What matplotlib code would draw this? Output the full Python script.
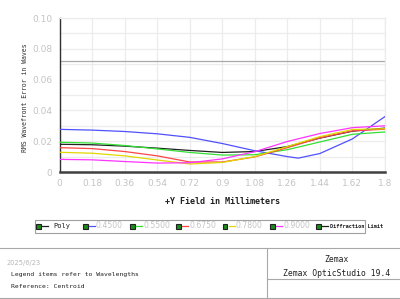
import matplotlib
matplotlib.use("Agg")
import matplotlib.pyplot as plt
from matplotlib.lines import Line2D
from matplotlib.patches import Rectangle

# ---------------- data ----------------
field = [0, 0.18, 0.36, 0.54, 0.72, 0.9, 1.08, 1.26, 1.44, 1.62, 1.8]
field_blue = [0, 0.18, 0.36, 0.54, 0.72, 0.9, 1.08, 1.26, 1.32, 1.44, 1.62, 1.8]

poly = [0.0180, 0.0177, 0.0168, 0.0155, 0.0140, 0.0127, 0.0133, 0.0165, 0.0220, 0.0265, 0.0285]
w4500 = [0.0277, 0.0272, 0.0263, 0.0248, 0.0225, 0.0185, 0.0138, 0.0100, 0.0090, 0.0120, 0.0215, 0.0360]
w5500 = [0.0193, 0.0188, 0.0172, 0.0150, 0.0127, 0.0110, 0.0112, 0.0145, 0.0195, 0.0245, 0.0260]
w6750 = [0.0158, 0.0152, 0.0133, 0.0105, 0.0065, 0.0065, 0.0098, 0.0158, 0.0222, 0.0267, 0.0278]
w7800 = [0.0128, 0.0122, 0.0105, 0.0078, 0.0052, 0.0062, 0.0100, 0.0165, 0.0230, 0.0276, 0.0281]
w9000 = [0.0082, 0.0079, 0.0068, 0.0058, 0.0060, 0.0085, 0.0132, 0.0198, 0.0250, 0.0288, 0.0300]
diffraction_limit = 0.072

xticks = [0, 0.18, 0.36, 0.54, 0.72, 0.9, 1.08, 1.26, 1.44, 1.62, 1.8]
xticklabels = ["0", "0.18", "0.36", "0.54", "0.72", "0.9", "1.08", "1.26", "1.44", "1.62", "1.8"]
yticks = [0, 0.02, 0.04, 0.06, 0.08, 0.10]
yticklabels = ["0", "0.02", "0.04", "0.06", "0.08", "0.10"]

legend_labels = ["Poly", "0.4500", "0.5500", "0.6750", "0.7800", "0.9000", "Diffraction Limit"]

# ---------------- styling ----------------
C_BLUE = "#5050ff"
C_GREEN = "#33e033"
C_RED = "#ff4545"
C_YEL = "#e0d800"
C_MAG = "#ff33ff"
C_BLK = "#202020"
C_DL = "#a8a8a8"
TICK_C = "#c4c4c4"
GRID_C = "#ececec"
MONO = "DejaVu Sans Mono"

W, H = 400, 299
fig = plt.figure(figsize=(W / 100, H / 100), dpi=100)
fig.patch.set_facecolor("white")

def fx(px):
    return px / W

def fy(py):
    return 1 - py / H

ax = fig.add_axes([fx(59.5), fy(172), fx(385) - fx(59.5), fy(18) - fy(172)])
ax.set_xlim(0, 1.8)
ax.set_ylim(0, 0.10)

# grid
for gx in xticks:
    ax.axvline(gx, color=GRID_C, lw=0.9, zorder=0)
for i in range(11):
    ax.axhline(i * 0.01, color=GRID_C, lw=0.9, zorder=0)

ax.axhline(diffraction_limit, color=C_DL, lw=0.9, zorder=1)
ax.plot(field, poly, color=C_BLK, lw=0.9, zorder=3)
ax.plot(field_blue, w4500, color=C_BLUE, lw=0.9, zorder=3)
ax.plot(field, w5500, color=C_GREEN, lw=0.9, zorder=3)
ax.plot(field, w6750, color=C_RED, lw=0.9, zorder=3)
ax.plot(field, w7800, color=C_YEL, lw=0.9, zorder=3)
ax.plot(field, w9000, color=C_MAG, lw=0.9, zorder=3)

ax.set_xticks(xticks)
ax.set_xticklabels(xticklabels)
ax.set_yticks(yticks)
ax.set_yticklabels(yticklabels)
ax.tick_params(axis="both", length=0, labelsize=6.5, labelcolor=TICK_C, pad=5)
for s in ["top", "right"]:
    ax.spines[s].set_color(GRID_C)
    ax.spines[s].set_linewidth(0.9)
ax.spines["left"].set_color("#303030")
ax.spines["left"].set_linewidth(1.0)
ax.spines["bottom"].set_color("#404040")
ax.spines["bottom"].set_linewidth(1.8)

fig.text(fx(222), fy(201), "+Y Field in Millimeters", family=MONO, fontsize=6,
         fontweight="bold", ha="center", va="center", color="#202020")
fig.text(fx(25), fy(98), "RMS Wavefront Error in Waves", family=MONO, fontsize=4.7,
         ha="center", va="center", rotation=90, color="#303030")

# ---------------- legend ----------------
fig.add_artist(Rectangle((fx(35), fy(233)), fx(365) - fx(35), fy(220) - fy(233),
                         transform=fig.transFigure, fill=False, ec="#a0a0a0", lw=0.8))
leg_colors = [C_BLK, C_BLUE, C_GREEN, C_RED, C_YEL, C_MAG, C_BLK]
icon_x = [38, 85, 132, 178, 225, 272, 318]
text_x = [53, 96, 143, 189, 236, 283, 330]
ly = 226
for lab, col, ix, tx in zip(legend_labels, leg_colors, icon_x, text_x):
    fig.add_artist(Rectangle((fx(ix - 2.5), fy(ly + 2.5)), fx(5), fy(0) - fy(5),
                             transform=fig.transFigure, fc="#1a8a1a", ec="#202020", lw=0.8))
    fig.add_artist(Line2D([fx(ix + 3.5), fx(ix + 9.5)], [fy(ly), fy(ly)],
                          transform=fig.transFigure, color=col, lw=0.9))
    if lab == "Poly":
        fig.text(fx(tx), fy(ly), lab, family=MONO, fontsize=5,
                 color="#202020", va="center", ha="left")
    elif lab == "Diffraction Limit":
        fig.text(fx(tx), fy(ly), lab, family=MONO, fontsize=3.8, fontweight="bold",
                 color="#202020", va="center", ha="left")
    else:
        fig.text(fx(tx), fy(ly), lab, fontsize=5.6, color=TICK_C, va="center", ha="left")

# ---------------- footer ----------------
fig.add_artist(Line2D([0, 1], [fy(248), fy(248)], transform=fig.transFigure,
                      color="#a8a8a8", lw=0.8))
fig.add_artist(Line2D([0, 1], [fy(298), fy(298)], transform=fig.transFigure,
                      color="#a8a8a8", lw=0.8))
fig.add_artist(Line2D([fx(267), fx(267)], [fy(248), fy(298)], transform=fig.transFigure,
                      color="#a8a8a8", lw=0.8))
fig.add_artist(Line2D([fx(267), 1], [fy(279), fy(279)], transform=fig.transFigure,
                      color="#a8a8a8", lw=0.8))

fig.text(fx(7), fy(263), "2025/6/23", fontsize=4.8, color="#b8b8b8", va="center", ha="left")
fig.text(fx(11), fy(274.5), "Legend items refer to Wavelengths", family=MONO, fontsize=4.6,
         color="#202020", va="center", ha="left")
fig.text(fx(11), fy(287), "Reference: Centroid", family=MONO, fontsize=4.6,
         color="#202020", va="center", ha="left")
fig.text(fx(337), fy(260), "Zemax", family=MONO, fontsize=5.8,
         color="#202020", va="center", ha="center")
fig.text(fx(337), fy(273), "Zemax OpticStudio 19.4", family=MONO, fontsize=5.8,
         color="#202020", va="center", ha="center")

fig.savefig("out.png", dpi=100, facecolor="white")
